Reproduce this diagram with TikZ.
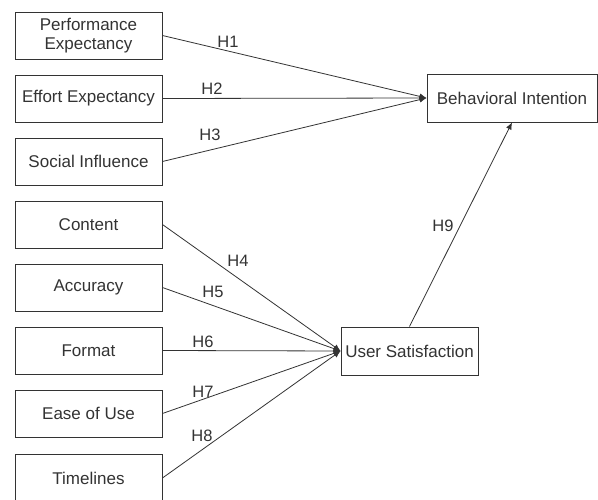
\documentclass[tikz,border=0pt]{standalone}
\usepackage{fontspec}
\setmainfont{Liberation Sans}
\usetikzlibrary{arrows.meta}
\definecolor{ink}{HTML}{333333}
\tikzset{
  box/.style={draw=ink, line width=0.9pt, rectangle, minimum height=47pt, inner sep=0pt, align=center, text=ink, font=\fontsize{17}{19.5}\selectfont},
  lbl/.style={text=ink, inner sep=0pt, font=\fontsize{16.5}{19}\selectfont},
  conn/.style={draw=ink, line width=0.8pt, -{Latex[length=7pt,width=6pt]}}
}
\begin{document}
\begin{tikzpicture}[x=1pt,y=-1pt]
\useasboundingbox (0,0) rectangle (598,500);
\fill[white] (0,0) rectangle (598,500);
\node[box, minimum width=147pt] (pe) at (88.5,35.5) {Performance\\Expectancy};
\node[box, minimum width=147pt] (ee) at (88.5,98.5) {Effort Expectancy};
\node[box, minimum width=147pt] (si) at (88.5,161.5) {Social Influence};
\node[box, minimum width=147pt] (co) at (88.5,224.5) {Content};
\node[box, minimum width=147pt] (ac) at (88.5,287.5) {Accuracy};
\node[box, minimum width=147pt] (fo) at (88.5,350.5) {Format};
\node[box, minimum width=147pt] (eu) at (88.5,413.5) {Ease of Use};
\node[box, minimum width=147pt] (ti) at (88.5,478) {Timelines};
\node[box, minimum width=170pt, minimum height=48pt] (bi) at (512,98) {Behavioral Intention};
\node[box, minimum width=137pt, minimum height=48pt] (us) at (409.5,351) {User Satisfaction};
\draw[conn] (pe.east) -- (bi.west);
\draw[conn] (ee.east) -- (bi.west);
\draw[conn] (si.east) -- (bi.west);
\draw[conn] (co.east) -- (us.west);
\draw[conn] (ac.east) -- (us.west);
\draw[conn] (fo.east) -- (us.west);
\draw[conn] (eu.east) -- (us.west);
\draw[conn] (ti.east) -- (us.west);
\draw[conn] (us.north) -- (bi.south);
\node[lbl] (h1) at (228,41.5) {H1};
\node[lbl] (h2) at (212,89) {H2};
\node[lbl] (h3) at (210,135) {H3};
\node[lbl] (h4) at (238,261) {H4};
\node[lbl] (h5) at (213,292) {H5};
\node[lbl] (h6) at (203,342) {H6};
\node[lbl] (h7) at (203,392) {H7};
\node[lbl] (h8) at (202,436) {H8};
\node[lbl] (h9) at (443,226) {H9};
\end{tikzpicture}
\end{document}
